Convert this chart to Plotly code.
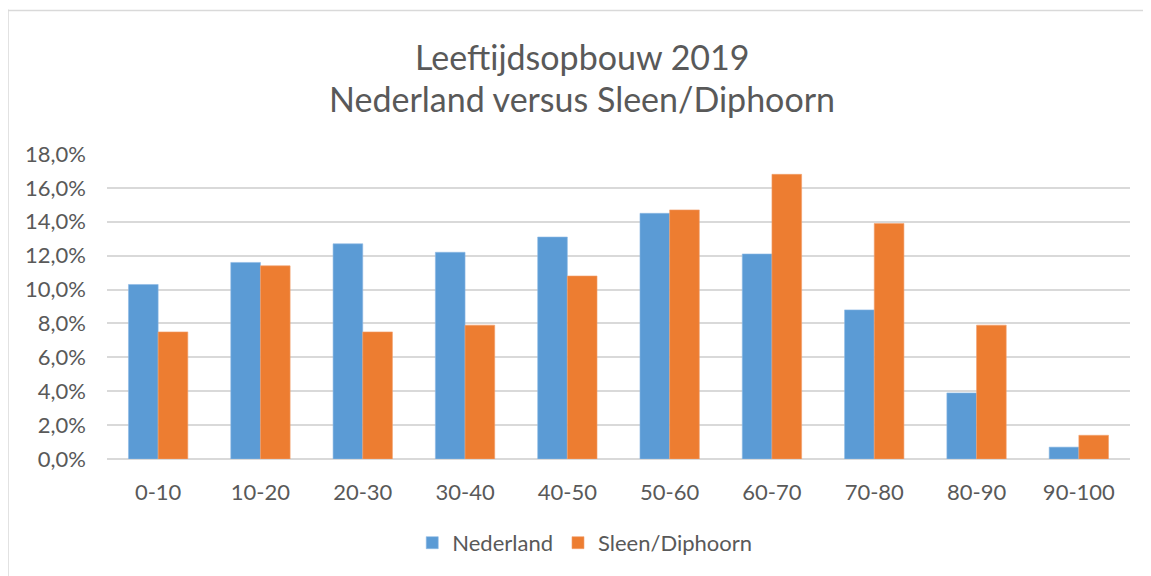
import plotly.graph_objects as go

categories = ["0-10", "10-20", "20-30", "30-40", "40-50", "50-60", "60-70", "70-80", "80-90", "90-100"]
nederland = [10.3, 11.6, 12.7, 12.2, 13.1, 14.5, 12.1, 8.8, 3.9, 0.7]
sleen_diphoorn = [7.5, 11.4, 7.5, 7.9, 10.8, 14.7, 16.8, 13.9, 7.9, 1.4]
title_lines = ["Leeftijdsopbouw 2019", "Nederland versus Sleen/Diphoorn"]
y_ticks = [0, 2, 4, 6, 8, 10, 12, 14, 16, 18]
y_ticktext = [f"{v:.1f}".replace(".", ",") + "%" for v in y_ticks]

FONT = "Lato"
TXT = "#595959"

fig = go.Figure()
fig.add_trace(go.Bar(name="Nederland", x=categories, y=nederland,
                     marker=dict(color="#5B9BD5", line=dict(color="#8DB8E4", width=0.6))))
fig.add_trace(go.Bar(name="Sleen/Diphoorn", x=categories, y=sleen_diphoorn,
                     marker=dict(color="#ED7D31", line=dict(color="#F2A06C", width=0.6))))

# page body has an 8px margin: figure occupies x 8..1151, y 8..576
fig.update_layout(
    width=1143, height=568,
    paper_bgcolor="white", plot_bgcolor="white",
    margin=dict(l=99, r=21, t=146, b=112, pad=0),
    barmode="group", bargap=0.42, bargroupgap=0,
    separators=",.",
    font=dict(family=FONT, color=TXT, size=22),
    showlegend=True,
    legend=dict(orientation="h", x=0.467, xanchor="center", y=-0.275, yanchor="middle",
                font=dict(size=22, color=TXT), itemwidth=30, traceorder="normal"),
    xaxis=dict(showgrid=False, showline=False, ticks="", tickfont=dict(size=22, color=TXT),
               ticklabelstandoff=18),
    yaxis=dict(range=[0, 18], tickvals=y_ticks, ticktext=y_ticktext,
               showgrid=True, gridcolor="#D9D9D9", gridwidth=1.5, zeroline=True,
               zerolinecolor="#D9D9D9", zerolinewidth=1.5, showline=False,
               tickfont=dict(size=22, color=TXT), ticklabelstandoff=20),
)

title_x = (582 - 107) / 1023
fig.add_annotation(text=title_lines[0], xref="paper", yref="paper", x=title_x, y=1.0,
                   xanchor="center", yanchor="middle", yshift=98,
                   showarrow=False, font=dict(size=34, color=TXT, family=FONT))
fig.add_annotation(text=title_lines[1], xref="paper", yref="paper", x=title_x, y=1.0,
                   xanchor="center", yanchor="middle", yshift=56,
                   showarrow=False, font=dict(size=34, color=TXT, family=FONT))

# chart-area border (left and top edges visible in the reference)
fig.add_shape(type="line", xref="paper", yref="paper",
              x0=-99 / 1023, x1=-99 / 1023, y0=-120 / 308, y1=1 + 146 / 308,
              line=dict(color="#D9D9D9", width=1.5))
fig.add_shape(type="line", xref="paper", yref="paper",
              x0=-99 / 1023, x1=1 + 25 / 1023, y0=1 + 145 / 308, y1=1 + 145 / 308,
              line=dict(color="#D9D9D9", width=1.5))

fig.write_html("out.html")
